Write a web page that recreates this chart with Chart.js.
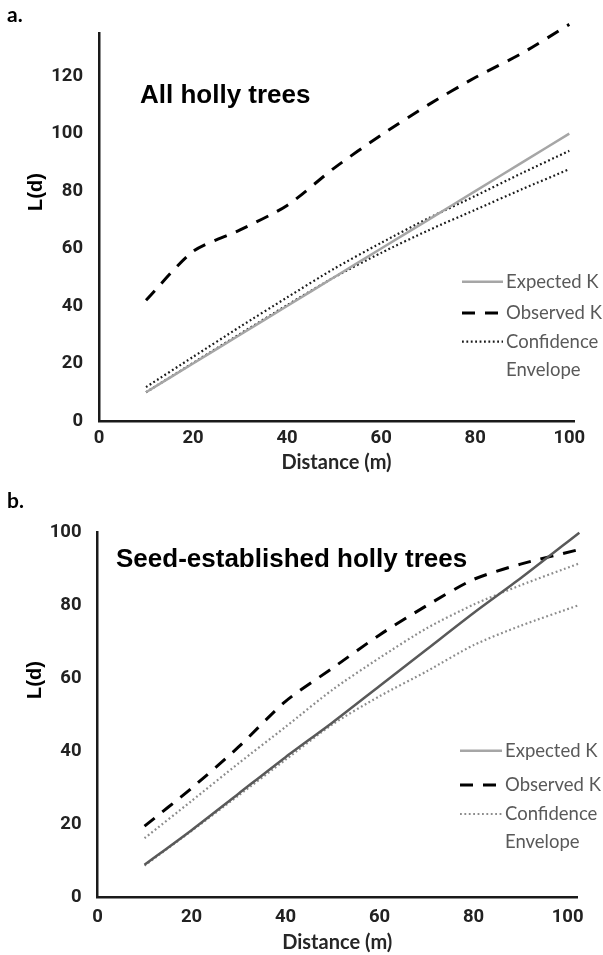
<!DOCTYPE html>
<html>
<head>
<meta charset="utf-8">
<script src="https://cdn.jsdelivr.net/npm/chart.js@4.4.1/dist/chart.umd.min.js"></script>
<style>
  body { margin: 0; background: #fff; }
  canvas { display: block; }
</style>
</head>
<body>
<canvas id="chartA" width="603" height="477"></canvas>
<canvas id="chartB" width="603" height="478"></canvas>
<script>
// --- panel a: all holly trees ---
const distA = [10, 20, 30, 40, 50, 60, 70, 80, 90, 100];
const expectedA = [10, 20, 30, 40, 50, 60, 70, 80, 90, 100];
const observedA = [42, 59, 66.5, 75, 88, 99.5, 110, 119.5, 128, 138];
const upperA = [11.8, 22.3, 32.8, 43, 53, 62, 70.5, 78.3, 86.3, 94];
const lowerA = [10, 20.2, 30.3, 40.3, 50, 58.5, 66.3, 73.5, 80.7, 87.6];

// --- panel b: seed-established holly trees ---
const distB = [10, 20, 30, 40, 50, 60, 70, 80, 90, 102.5];
const expectedB = [9, 18.5, 28.5, 38.5, 48, 58, 68, 78, 87.5, 100];
const observedB = [19.6, 30, 41.3, 53.8, 62.9, 72, 80, 87.2, 91.4, 95.4];
const upperB = [16.3, 26.5, 36.8, 46.8, 57, 65.7, 73.8, 80.3, 85.6, 91.6];
const lowerB = [8.8, 18.3, 28, 37.8, 47.5, 55.2, 62, 69.2, 74.5, 80.2];

const xTicks = [0, 20, 40, 60, 80, 100];
const yTicksA = [0, 20, 40, 60, 80, 100, 120];
const yTicksB = [0, 20, 40, 60, 80, 100];
const legendLabels = ['Expected K', 'Observed K', ['Confidence', 'Envelope']];

const tickFont = { family: "Roboto, 'Liberation Sans', sans-serif", size: 18.5, weight: 'bold' };

function pts(xs, ys) {
  return xs.map((x, i) => ({ x: x, y: ys[i] }));
}

// titles, panel letter and rotated y label
const panelText = {
  id: 'panelText',
  afterDraw(chart, args, o) {
    const ctx = chart.ctx;
    ctx.save();
    ctx.fillStyle = '#000';
    ctx.textBaseline = 'alphabetic';
    ctx.font = "bold 21px Lato, 'Open Sans', sans-serif";
    ctx.fillText(o.panel, o.panelX, o.panelY);
    ctx.font = "bold 26px 'Liberation Sans', Arial, sans-serif";
    ctx.fillText(o.title, o.titleX, o.titleY);
    ctx.translate(o.yLabelX, o.yLabelY);
    ctx.rotate(-Math.PI / 2);
    ctx.textAlign = 'center';
    ctx.textBaseline = 'middle';
    ctx.font = "bold 20px 'Liberation Sans', Arial, sans-serif";
    ctx.fillText(o.yLabel, 0, 0);
    ctx.restore();
  }
};

// legend drawn inside the plot, right side
const sideLegend = {
  id: 'sideLegend',
  afterDraw(chart, args, o) {
    const ctx = chart.ctx;
    ctx.save();
    legendLabels.forEach((lab, k) => {
      const ds = chart.data.datasets[k];
      const y = o.rows[k];
      ctx.strokeStyle = ds.legendColor || ds.borderColor;
      ctx.lineWidth = ds.borderWidth;
      ctx.setLineDash(ds.borderDash || []);
      ctx.beginPath();
      ctx.moveTo(o.x1, y);
      ctx.lineTo(o.x2, y);
      ctx.stroke();
      ctx.setLineDash([]);
      ctx.fillStyle = '#595959';
      ctx.font = "18.5px Lato, 'Open Sans', sans-serif";
      ctx.textBaseline = 'middle';
      const lines = Array.isArray(lab) ? lab : [lab];
      lines.forEach((t, j) => ctx.fillText(t, o.textX, y + j * o.lineGap));
    });
    ctx.restore();
  }
};

function makeChart(id, d, cfg) {
  return new Chart(document.getElementById(id), {
    type: 'line',
    data: {
      datasets: [
        { label: 'Expected K', data: pts(d.x, d.expected), borderColor: cfg.expColor, legendColor: '#a6a6a6',
          borderWidth: 2.5, pointRadius: 0, clip: false },
        { label: 'Observed K', data: pts(d.x, d.observed), borderColor: '#000', borderWidth: 3,
          borderDash: [13, 10], pointRadius: 0, clip: false },
        { label: 'Confidence Envelope', data: pts(d.x, d.upper), borderColor: cfg.confColor, borderWidth: 2.2,
          borderDash: [1.8, 2.6], pointRadius: 0, clip: false },
        { label: 'Confidence Envelope (lower)', data: pts(d.x, d.lower), borderColor: cfg.confColor, borderWidth: 2.2,
          borderDash: [1.8, 2.6], pointRadius: 0, clip: false }
      ]
    },
    options: {
      responsive: false,
      animation: false,
      devicePixelRatio: 1,
      elements: { line: { tension: 0.25 } },
      layout: { padding: cfg.padding },
      plugins: {
        legend: { display: false },
        tooltip: { enabled: false },
        panelText: cfg.text,
        sideLegend: cfg.legend
      },
      scales: {
        x: {
          type: 'linear', min: 0, max: cfg.xMax,
          afterBuildTicks: s => { s.ticks = xTicks.map(v => ({ value: v })); },
          afterFit: s => { s.height = cfg.xHeight; },
          grid: { display: true, drawOnChartArea: false, drawTicks: false },
          border: { color: '#1a1a1a', width: 2.5 },
          ticks: { font: tickFont, color: '#222', padding: cfg.xPad, maxRotation: 0 },
          title: { display: true, text: 'Distance (m)', color: '#262626',
                   font: { family: "Lato, 'Open Sans', sans-serif", size: 20, weight: 'bold' },
                   padding: { top: 0, bottom: cfg.titlePad } }
        },
        y: {
          min: 0, max: cfg.yMax,
          afterBuildTicks: s => { s.ticks = cfg.yTicks.map(v => ({ value: v })); },
          afterFit: s => { s.width = cfg.yWidth; },
          grid: { display: true, drawOnChartArea: false, drawTicks: false },
          border: { color: '#1a1a1a', width: 2.5 },
          ticks: { font: tickFont, color: '#222', padding: 16 }
        }
      }
    },
    plugins: [panelText, sideLegend]
  });
}

makeChart('chartA',
  { x: distA, expected: expectedA, observed: observedA, upper: upperA, lower: lowerA },
  { expColor: '#a6a6a6', confColor: '#1a1a1a', xMax: 101, yMax: 135, yTicks: yTicksA,
    padding: { left: 0, top: 33, right: 29, bottom: 0 }, xHeight: 56, yWidth: 99, xPad: 6, titlePad: 2,
    text: { panel: 'a.', panelX: 7, panelY: 22, title: 'All holly trees', titleX: 140, titleY: 103,
            yLabel: 'L(d)', yLabelX: 36, yLabelY: 192 },
    legend: { x1: 462, x2: 503, textX: 506, rows: [281.7, 313, 341.7], lineGap: 28.5 } });

makeChart('chartB',
  { x: distB, expected: expectedB, observed: observedB, upper: upperB, lower: lowerB },
  { expColor: '#595959', confColor: '#8c8c8c', xMax: 102, yMax: 100, yTicks: yTicksB,
    padding: { left: 0, top: 55.7, right: 26, bottom: 0 }, xHeight: 57.3, yWidth: 97.5, xPad: 8.8, titlePad: 0,
    text: { panel: 'b.', panelX: 7, panelY: 31, title: 'Seed-established holly trees', titleX: 116, titleY: 89.7,
            yLabel: 'L(d)', yLabelX: 35, yLabelY: 203 },
    legend: { x1: 460, x2: 502, textX: 505, rows: [273.7, 308, 337], lineGap: 27.7 } });
</script>
</body>
</html>
